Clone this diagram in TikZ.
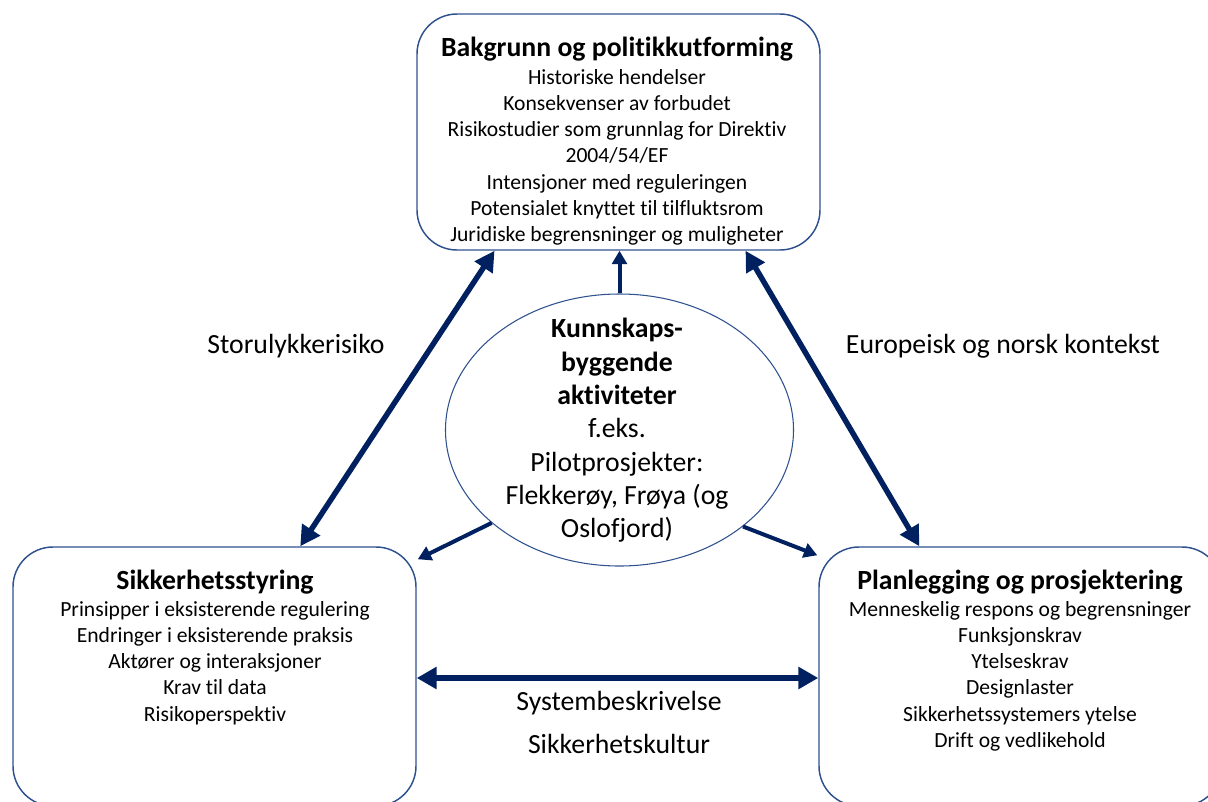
\documentclass[tikz,border=0pt]{standalone}
\usepackage{fontspec}
\setmainfont{Carlito}[Ligatures=NoCommon]
\usetikzlibrary{arrows.meta,shapes.geometric,calc}
\definecolor{navy}{HTML}{002060}
\definecolor{boxblue}{HTML}{2F528F}
\begin{document}
\begin{tikzpicture}[x=0.75pt,y=-0.75pt,
  box/.style={draw=boxblue, line width=1.1pt, rounded corners=30pt, minimum width=302.25pt, inner sep=0pt},
  ell/.style={ellipse, draw=boxblue, line width=0.8pt, minimum width=261pt, minimum height=204pt, inner sep=0pt},
  ttl/.style={font=\fontsize{20.8}{24}\selectfont\bfseries, inner sep=0pt, anchor=base},
  body/.style={font=\fontsize{16.2}{19.65}\selectfont, align=center, inner sep=0pt, anchor=north},
  etext/.style={font=\fontsize{20.8}{25}\selectfont, align=center, inner sep=0pt, anchor=north},
  lbl/.style={font=\fontsize{20.8}{24}\selectfont, inner sep=0pt},
  bigarr/.style={draw=navy, line width=4.1pt, {Triangle[length=15pt,width=15.5pt]}-{Triangle[length=15pt,width=15.5pt]}},
  hzarr/.style={draw=navy, line width=4.5pt, {Triangle[length=15pt,width=16pt]}-{Triangle[length=15pt,width=16pt]}},
  smarr/.style={draw=navy, line width=3pt, -{Triangle[length=10pt,width=11pt]}}
]
\useasboundingbox (0,0) rectangle (1208,801);
\begin{scope}
\clip (0,0) rectangle (1208,801);
\node[box, minimum height=177pt] (top) at (618.5,132) {};
\node[box, minimum height=194.25pt] (left) at (214.5,676.5) {};
\node[box, minimum height=194.25pt] (right) at (1020.5,676.5) {};
\end{scope}
\node[ell] (ell) at (619.5,430) {};

% texts
\node[ttl] (topT) at (617,56) {Bakgrunn og politikkutforming};
\node[body] (topB) at (617,69) {Historiske hendelser\\Konsekvenser av forbudet\\Risikostudier som grunnlag for Direktiv\\2004/54/EF\\Intensjoner med reguleringen\\Potensialet knyttet til tilfluktsrom\\Juridiske begrensninger og muligheter};
\node[ttl] (leftT) at (215,589) {Sikkerhetsstyring};
\node[body] (leftB) at (215,601) {Prinsipper i eksisterende regulering\\Endringer i eksisterende praksis\\Aktører og interaksjoner\\Krav til data\\Risikoperspektiv};
\node[ttl] (rightT) at (1020,589) {Planlegging og prosjektering};
\node[body] (rightB) at (1020,601) {Menneskelig respons og begrensninger\\Funksjonskrav\\Ytelseskrav\\Designlaster\\Sikkerhetssystemers ytelse\\Drift og vedlikehold};
\node[etext] (ellT) at (617,318) {\textbf{Kunnskaps-}\\\textbf{byggende}\\\textbf{aktiviteter}\\f.eks.\\Pilotprosjekter:\\Flekkerøy, Frøya (og\\Oslofjord)};

\node[lbl] (l1) at (296,346) {Storulykkerisiko};
\node[lbl] (l2) at (1003,346) {Europeisk og norsk kontekst};
\node[lbl] (l3) at (619,703) {Systembeskrivelse};
\node[lbl] (l4) at (619,744) {Sikkerhetskultur};

% connectors
\coordinate (hy) at (0,678);
\draw[bigarr] ($(left.north west)!0.712!(left.north east)$) -- ($(top.south west)!0.1935!(top.south east)$);
\draw[bigarr] ($(right.north west)!0.25!(right.north east)$) -- ($(top.south west)!0.814!(top.south east)$);
\draw[hzarr] (left.east |- hy) -- (right.west |- hy);
\draw[smarr] (ell.north) -- (ell.north |- top.south);
\draw[smarr] (ell.216.8) -- ($(left.north east)+(1,13)$);
\draw[smarr] (ell.322.8) -- ($(right.north west)+(-1,9)$);
\end{tikzpicture}
\end{document}
